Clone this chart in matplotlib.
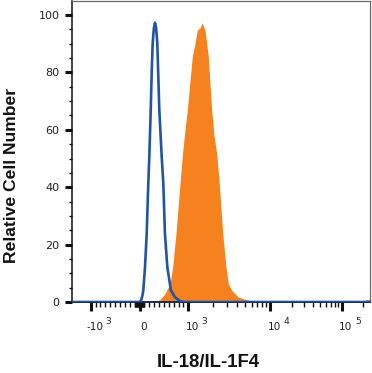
import numpy as np
import matplotlib
matplotlib.use("Agg")
import matplotlib.pyplot as plt
from matplotlib.ticker import FixedLocator, NullFormatter
import matplotlib.transforms as mtransforms

# ---------------- data ----------------
# Isotype control (blue outline): fluorescence intensity vs relative cell number
blue_x = [-2400, -10, 31, 60, 78, 113, 148, 180, 201, 230, 250, 270, 295, 318,
          342, 365, 406, 455, 488, 521, 570, 643, 725, 830, 912, 262144]
blue_y = [0, 0, 0.5, 2.2, 4.1, 12.2, 24, 41.3, 50.6, 66.9, 80, 90.1, 95.5, 97.3,
          95.3, 90.1, 66.9, 50.6, 41.3, 24, 12.2, 4.1, 1.7, 0.3, 0, 0]

# IL-18/IL-1F4 stained cells (orange filled)
orange_x = [-2400, 174, 318, 420, 523, 625, 680, 748, 830, 881, 932, 980, 1049,
            1119, 1208, 1289, 1391, 1484, 1535, 1601, 1680, 1757, 1844, 1934,
            2063, 2227, 2395, 2637, 2894, 3088, 3398, 4093, 4943, 5691, 6740,
            7983, 200000, 215000, 262144]
orange_y = [0, 0, 0.3, 0.8, 2.9, 6.4, 12.2, 24, 41.3, 51.7, 60, 66.9, 77, 85.5,
            90.1, 94.8, 95.5, 97.3, 96, 94.8, 90.1, 85.5, 76, 66.9, 58, 51.7,
            41.3, 24, 12.2, 6.4, 4.1, 1.7, 0.9, 0.6, 0.2, 0, 0, 0.8, 0.8]

x_major = [-1000, 0, 1000, 10000, 100000]
x_major_base = ["-10", "0", "10", "10", "10"]
x_major_exp = ["3", "", "3", "4", "5"]
y_major = [0, 20, 40, 60, 80, 100]

x_minor = ([-v for v in range(100, 1000, 100)] + [-v for v in range(10, 100, 10)]
           + list(range(10, 100, 10)) + list(range(100, 1000, 100))
           + list(range(2000, 10000, 1000)) + list(range(20000, 100000, 10000))
           + [200000])
y_minor = list(range(0, 105, 5))

ORANGE = "#f5821f"
BLUE = "#2155a3"

# ---------------- biexponential-like display transform ----------------
_U = np.array([-6.0, -1.0, 0.0, 1.0, 2.0, 3.0, 6.0])
_P = np.array([90.7 - 5 * 48.8, 90.7, 139.5, 188.3, 270.0, 341.7, 341.7 + 3 * 71.7])


def _u(x):
    x = np.asarray(x, dtype=float)
    ax_ = np.abs(x)
    return np.where(ax_ <= 1000, x / 1000.0,
                    np.sign(x) * (1 + np.log10(np.maximum(ax_, 1000) / 1000.0)))


def _uinv(u):
    u = np.asarray(u, dtype=float)
    au = np.abs(u)
    return np.where(au <= 1, u * 1000.0,
                    np.sign(u) * 1000.0 * 10 ** (np.maximum(au, 1) - 1))


def fwd(x):
    return np.interp(_u(x), _U, _P)


def inv(p):
    return _uinv(np.interp(np.asarray(p, dtype=float), _P, _U))


# ---------------- figure ----------------
W, H = 372, 373
fig = plt.figure(figsize=(W / 100, H / 100), dpi=100)
ax = fig.add_axes([72 / W, (H - 302) / H, 298 / W, 301 / H])
ax.set_xscale("function", functions=(fwd, inv))
ax.set_xlim(float(inv(72)), float(inv(370)))
ax.set_ylim(0, (301.7 - 1) / 2.867)

ax.fill_between(orange_x, orange_y, 0, color=ORANGE, lw=0, zorder=2)
ax.plot(blue_x, blue_y, color=BLUE, lw=1.9, zorder=3, solid_joinstyle="round")

# spines
for s in ("top", "right"):
    ax.spines[s].set_color("#6a6a6a")
    ax.spines[s].set_linewidth(0.9)
ax.spines["left"].set_color("#111111")
ax.spines["left"].set_linewidth(1.1)
ax.spines["bottom"].set_color("#1a2a55")
ax.spines["bottom"].set_linewidth(1.4)

# ticks
ax.xaxis.set_major_locator(FixedLocator(x_major))
ax.xaxis.set_minor_locator(FixedLocator(x_minor))
ax.xaxis.set_major_formatter(NullFormatter())
ax.yaxis.set_major_locator(FixedLocator(y_major))
ax.yaxis.set_minor_locator(FixedLocator([v for v in y_minor if v not in y_major]))

ax.tick_params(axis="x", which="major", length=6.5, width=2.2, color="#111111")
ax.tick_params(axis="x", which="minor", length=3.6, width=1.0, color="#111111")
ax.tick_params(axis="y", which="major", length=5.2, width=2.2, color="#111111",
               pad=3.8, labelsize=8, labelcolor="#222222")
ax.tick_params(axis="y", which="minor", length=2.5, width=1.0, color="#111111")

# x tick labels: base + raised exponent, as in the reference
blend = mtransforms.blended_transform_factory(ax.transData, ax.transAxes)


def px_offset(dx, dy):
    return blend + mtransforms.ScaledTranslation(dx / 100, dy / 100, fig.dpi_scale_trans)


for xv, base, ex in zip(x_major, x_major_base, x_major_exp):
    if base == "0":
        ax.text(xv, 0, base, transform=px_offset(4.5, -28), ha="center",
                va="baseline", fontsize=7.6, color="#222222", clip_on=False)
        continue
    bx = -4 if base.startswith("-") else -2.5
    sx = 15 if base.startswith("-") else 13.3
    ax.text(xv, 0, base, transform=px_offset(bx, -28), ha="left",
            va="baseline", fontsize=7.6, color="#222222", clip_on=False)
    ax.text(xv, 0, ex, transform=px_offset(sx, -21.5), ha="left",
            va="baseline", fontsize=6.6, color="#222222", clip_on=False)

# axis titles
fig.text(12 / W, 1 - 175.5 / H, "Relative Cell Number", rotation=90,
         ha="center", va="center", fontsize=12.6, fontweight="bold",
         family="Liberation Sans", color="#111111")
fig.text(208.5 / W, 1 - 367 / H, "IL-18/IL-1F4", ha="center", va="baseline",
         fontsize=13.3, fontweight="bold", family="Liberation Sans", color="#111111")

fig.savefig("out.png", dpi=100)
